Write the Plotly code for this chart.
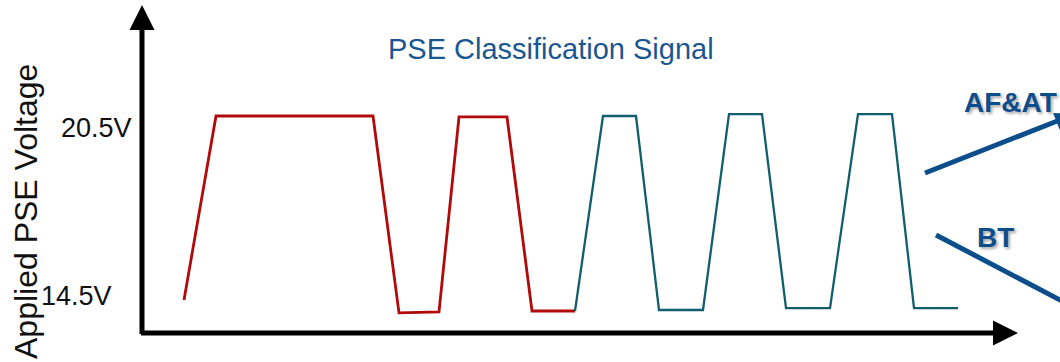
import math
import plotly.graph_objects as go

# ---------------- data ----------------
# time axis in arbitrary units, voltage in volts
red_t = [184, 216, 373, 399, 439, 459, 507, 532, 575]
red_v = [14.84, 20.5, 20.5, 14.44, 14.47, 20.47, 20.47, 14.5, 14.5]

teal_t = [575, 603, 636, 659, 703, 729, 762, 786, 830, 858, 892, 914, 958]
teal_v = [14.5, 20.5, 20.5, 14.53, 14.53, 20.56, 20.56, 14.59, 14.59, 20.56, 20.56, 14.59, 14.59]

level_labels = ["20.5V", "14.5V"]
title_text = "PSE Classification Signal"
y_title = "Applied PSE Voltage"
branch_labels = ["AF&AT", "BT"]

# ---------------- styling ----------------
W, H = 1060, 362
RED = "#B00A0A"
TEAL = "#135E6C"
BLUE_T = "#1A5791"
BLUE = "#0C4E8B"
FONT = "Liberation Sans, Arial, sans-serif"


def px(xp, yp):
    """pixel -> paper coordinates (margins are zero)."""
    return xp / W, 1 - yp / H


fig = go.Figure()
fig.add_trace(go.Scatter(x=red_t, y=red_v, mode="lines",
                         line=dict(color=RED, width=2.8), hoverinfo="skip"))
fig.add_trace(go.Scatter(x=teal_t, y=teal_v, mode="lines",
                         line=dict(color=TEAL, width=2.3), hoverinfo="skip"))

ann = []
shapes = []


def arrow(tip, tail, color, width, size, head=2):
    x, y = px(*tip)
    ann.append(dict(x=x, y=y, xref="paper", yref="paper", text="",
                    showarrow=True, ax=tail[0] - tip[0], ay=tail[1] - tip[1],
                    axref="pixel", ayref="pixel", arrowhead=head,
                    arrowsize=size, arrowwidth=width, arrowcolor=color))


def shape_arrow(tail, tip, color, width, head_len, head_half):
    """Arrow drawn with shapes so that it may run past the page edge."""
    dx, dy = tip[0] - tail[0], tip[1] - tail[1]
    L = math.hypot(dx, dy)
    ux, uy = dx / L, dy / L
    nx, ny = -uy, ux
    bx, by = tip[0] - head_len * ux, tip[1] - head_len * uy
    x0, y0 = px(*tail)
    x1, y1 = px(bx + ux, by + uy)
    shapes.append(dict(type="line", xref="paper", yref="paper",
                       x0=x0, y0=y0, x1=x1, y1=y1,
                       line=dict(color=color, width=width)))
    pts = [tip, (bx + head_half * nx, by + head_half * ny),
           (bx - head_half * nx, by - head_half * ny)]
    pp = [px(*p) for p in pts]
    path = "M {} {} L {} {} L {} {} Z".format(*[c for p in pp for c in p])
    shapes.append(dict(type="path", xref="paper", yref="paper", path=path,
                       fillcolor=color, line=dict(color=color, width=0)))


def label(xp, yp, text, size, color, xanchor="center", bold=False,
          angle=0, shadow=None):
    x, y = px(xp, yp)
    f = dict(family=FONT, size=size, color=color)
    if bold:
        f["weight"] = "bold"
    if shadow:
        f["shadow"] = shadow
    ann.append(dict(x=x, y=y, xref="paper", yref="paper", text=text,
                    showarrow=False, xanchor=xanchor, yanchor="middle",
                    textangle=angle, font=f))


# axes with arrowheads
arrow((142, 5), (142, 335.5), "black", 5, 1.0)
arrow((1018, 333), (139.5, 333), "black", 5, 1.0)

# branch arrows on the right (heads run past the right edge)
shape_arrow((925, 173), (1075, 114), BLUE, 5, 20, 9)
shape_arrow((936, 235), (1125, 334), BLUE, 5, 20, 9)

# texts
label(550.5, 49, title_text, 29, BLUE_T)
label(26, 212, y_title, 32, "#111111", angle=-90)
label(134, 127.5, level_labels[0], 27, "#111111", xanchor="right")
label(114, 296, level_labels[1], 27, "#111111", xanchor="right")
label(962, 102, branch_labels[0], 28, BLUE, xanchor="left", bold=True,
      shadow="2px 2px 3px rgba(0,0,0,0.35)")
label(975, 237, branch_labels[1], 28, BLUE, xanchor="left", bold=True,
      shadow="2px 2px 3px rgba(0,0,0,0.35)")

fig.update_layout(
    width=W, height=H,
    margin=dict(l=0, r=0, t=0, b=0),
    paper_bgcolor="white", plot_bgcolor="white",
    showlegend=False,
    xaxis=dict(range=[0, W], visible=False, fixedrange=True),
    yaxis=dict(range=[24.069 - H / 32.5, 24.069], visible=False,
               fixedrange=True),
    annotations=ann,
    shapes=shapes,
)

fig.write_html("out.html", config={"displayModeBar": False},
               post_script="document.body.style.margin='0';"
                           "document.body.style.overflow='hidden';")
